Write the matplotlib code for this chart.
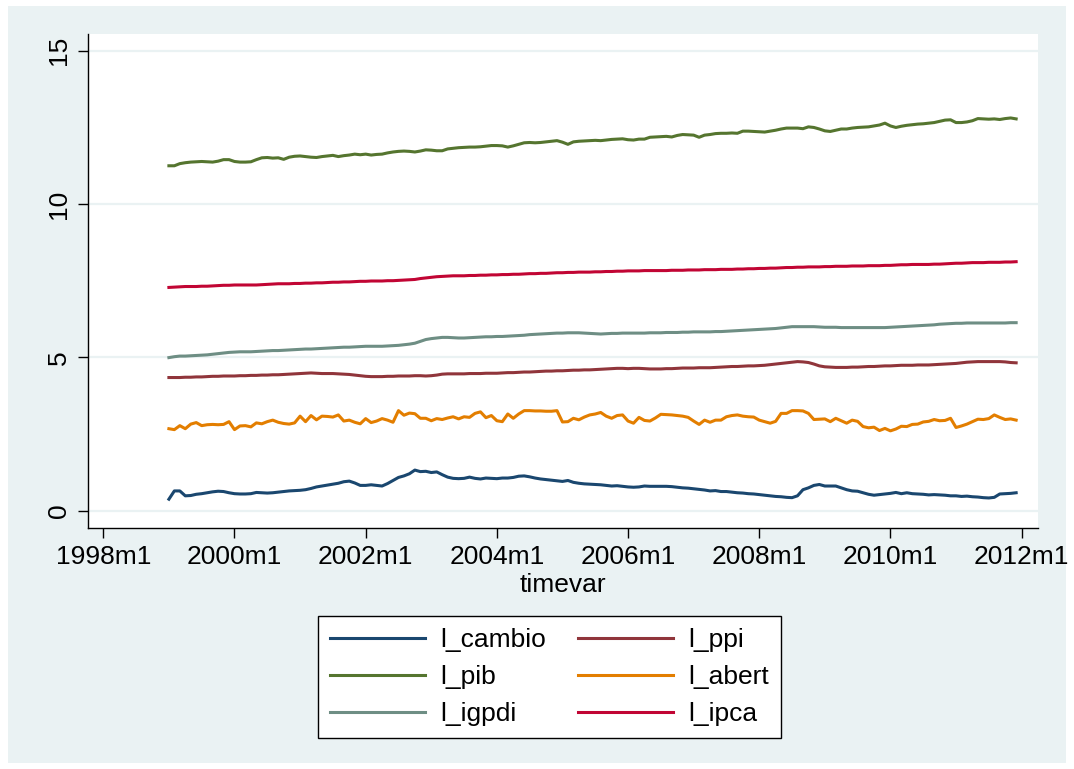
import numpy as np
import matplotlib
matplotlib.use("Agg")
import matplotlib.pyplot as plt
from matplotlib.patches import Rectangle

plt.rcParams['font.family'] = ['Liberation Sans', 'DejaVu Sans']

# monthly data 1999m1 .. 2011m12 (Stata %tm: 1999m1 = 468)
start_tm = 468

l_cambio = [0.37, 0.64, 0.64, 0.48, 0.49, 0.53, 0.55, 0.58, 0.61, 0.63, 0.62, 0.58,
            0.55, 0.54, 0.54, 0.55, 0.59, 0.58, 0.57, 0.58, 0.60, 0.62, 0.64, 0.65,
            0.66, 0.68, 0.72, 0.77, 0.80, 0.83, 0.86, 0.89, 0.94, 0.96, 0.90, 0.82,
            0.82, 0.84, 0.82, 0.80, 0.88, 0.98, 1.08, 1.13, 1.20, 1.32, 1.27, 1.28,
            1.24, 1.26, 1.17, 1.09, 1.05, 1.04, 1.05, 1.09, 1.05, 1.03, 1.06, 1.05,
            1.04, 1.06, 1.06, 1.08, 1.12, 1.13, 1.10, 1.06, 1.03, 1.01, 0.99, 0.97,
            0.95, 0.98, 0.92, 0.89, 0.87, 0.86, 0.85, 0.84, 0.82, 0.80, 0.81, 0.79,
            0.77, 0.76, 0.77, 0.80, 0.79, 0.79, 0.79, 0.79, 0.78, 0.76, 0.74, 0.73,
            0.71, 0.69, 0.67, 0.64, 0.65, 0.62, 0.62, 0.60, 0.58, 0.57, 0.55, 0.54,
            0.52, 0.50, 0.48, 0.46, 0.45, 0.43, 0.42, 0.48, 0.68, 0.74, 0.82, 0.85,
            0.80, 0.80, 0.80, 0.74, 0.68, 0.64, 0.63, 0.58, 0.53, 0.50, 0.52, 0.54,
            0.56, 0.59, 0.55, 0.58, 0.55, 0.54, 0.53, 0.51, 0.52, 0.51, 0.50, 0.48,
            0.48, 0.46, 0.47, 0.45, 0.44, 0.42, 0.41, 0.43, 0.54, 0.55, 0.56, 0.58]

l_ppi = [4.34, 4.34, 4.34, 4.35, 4.35, 4.36, 4.36, 4.37, 4.38, 4.38, 4.39, 4.39,
         4.39, 4.40, 4.40, 4.41, 4.41, 4.42, 4.42, 4.43, 4.43, 4.44, 4.45, 4.46,
         4.47, 4.48, 4.49, 4.48, 4.47, 4.47, 4.47, 4.46, 4.45, 4.44, 4.42, 4.40,
         4.38, 4.37, 4.37, 4.37, 4.38, 4.38, 4.39, 4.39, 4.39, 4.40, 4.40, 4.39,
         4.40, 4.42, 4.45, 4.46, 4.46, 4.46, 4.46, 4.47, 4.47, 4.47, 4.48, 4.48,
         4.48, 4.49, 4.50, 4.50, 4.51, 4.52, 4.52, 4.53, 4.54, 4.55, 4.55, 4.56,
         4.56, 4.57, 4.58, 4.58, 4.59, 4.59, 4.60, 4.61, 4.62, 4.63, 4.64, 4.64,
         4.63, 4.64, 4.64, 4.63, 4.62, 4.62, 4.62, 4.63, 4.63, 4.64, 4.65, 4.65,
         4.65, 4.66, 4.66, 4.66, 4.67, 4.68, 4.69, 4.70, 4.70, 4.71, 4.72, 4.72,
         4.73, 4.74, 4.76, 4.78, 4.80, 4.82, 4.84, 4.86, 4.85, 4.83, 4.78, 4.72,
         4.69, 4.68, 4.67, 4.67, 4.67, 4.68, 4.68, 4.69, 4.70, 4.70, 4.71, 4.72,
         4.72, 4.73, 4.74, 4.74, 4.74, 4.75, 4.75, 4.75, 4.76, 4.77, 4.78, 4.79,
         4.80, 4.82, 4.84, 4.85, 4.86, 4.86, 4.86, 4.86, 4.86, 4.85, 4.83, 4.82]

l_pib = [11.25, 11.25, 11.32, 11.35, 11.37, 11.38, 11.39, 11.38, 11.37, 11.40, 11.45, 11.45,
         11.39, 11.37, 11.37, 11.38, 11.45, 11.51, 11.52, 11.50, 11.51, 11.46, 11.53, 11.56,
         11.57, 11.55, 11.53, 11.52, 11.55, 11.57, 11.59, 11.55, 11.58, 11.60, 11.63, 11.61,
         11.63, 11.60, 11.62, 11.63, 11.67, 11.70, 11.72, 11.73, 11.72, 11.70, 11.73, 11.77,
         11.76, 11.74, 11.74, 11.80, 11.82, 11.84, 11.85, 11.86, 11.86, 11.87, 11.89, 11.91,
         11.91, 11.90, 11.86, 11.90, 11.95, 12.00, 12.01, 12.00, 12.01, 12.03, 12.05, 12.07,
         12.02, 11.95, 12.03, 12.05, 12.06, 12.07, 12.08, 12.07, 12.09, 12.11, 12.12, 12.13,
         12.10, 12.09, 12.12, 12.12, 12.18, 12.19, 12.20, 12.21, 12.19, 12.24, 12.27, 12.26,
         12.25, 12.18, 12.25, 12.27, 12.30, 12.31, 12.31, 12.32, 12.31, 12.38, 12.38, 12.37,
         12.36, 12.35, 12.38, 12.41, 12.45, 12.48, 12.48, 12.48, 12.46, 12.52, 12.50, 12.45,
         12.39, 12.37, 12.41, 12.45, 12.45, 12.48, 12.50, 12.51, 12.52, 12.55, 12.58, 12.64,
         12.55, 12.50, 12.54, 12.57, 12.59, 12.61, 12.62, 12.64, 12.66, 12.70, 12.74, 12.75,
         12.66, 12.66, 12.68, 12.72, 12.79, 12.78, 12.77, 12.78, 12.76, 12.79, 12.81, 12.78]

l_abert = [2.67, 2.64, 2.77, 2.67, 2.82, 2.87, 2.77, 2.80, 2.81, 2.80, 2.81, 2.90,
           2.64, 2.76, 2.77, 2.73, 2.86, 2.83, 2.90, 2.95, 2.88, 2.84, 2.82, 2.86,
           3.08, 2.90, 3.10, 2.96, 3.08, 3.07, 3.05, 3.12, 2.92, 2.95, 2.88, 2.83,
           3.00, 2.87, 2.92, 3.00, 2.95, 2.88, 3.26, 3.11, 3.18, 3.16, 3.01, 3.01,
           2.93, 3.00, 2.97, 3.02, 3.06, 2.99, 3.06, 3.04, 3.17, 3.22, 3.03, 3.10,
           2.93, 2.90, 3.15, 3.01, 3.15, 3.26, 3.26, 3.25, 3.25, 3.24, 3.24, 3.26,
           2.89, 2.90, 3.01, 2.96, 3.05, 3.12, 3.15, 3.20, 3.08, 3.01, 3.10, 3.12,
           2.92, 2.85, 3.04, 2.94, 2.92, 3.02, 3.14, 3.13, 3.12, 3.10, 3.08, 3.04,
           2.92, 2.81, 2.95, 2.88, 2.95, 2.95, 3.06, 3.10, 3.12, 3.08, 3.06, 3.05,
           2.95, 2.90, 2.85, 2.91, 3.17, 3.17, 3.26, 3.26, 3.25, 3.17, 2.97, 2.98,
           2.99, 2.90, 3.01, 2.93, 2.85, 2.95, 2.91, 2.74, 2.70, 2.72, 2.61, 2.68,
           2.60, 2.66, 2.75, 2.74, 2.81, 2.82, 2.89, 2.91, 2.97, 2.93, 2.94, 3.01,
           2.71, 2.76, 2.82, 2.90, 2.98, 2.97, 3.00, 3.12, 3.04, 2.97, 2.99, 2.95]

l_igpdi = [4.99, 5.02, 5.04, 5.04, 5.05, 5.06, 5.07, 5.08, 5.10, 5.12, 5.14, 5.16,
           5.17, 5.18, 5.18, 5.18, 5.19, 5.20, 5.21, 5.22, 5.22, 5.23, 5.24, 5.25,
           5.26, 5.27, 5.27, 5.28, 5.29, 5.30, 5.31, 5.32, 5.33, 5.33, 5.34, 5.35,
           5.36, 5.36, 5.36, 5.36, 5.37, 5.38, 5.39, 5.41, 5.43, 5.46, 5.52, 5.58,
           5.61, 5.63, 5.65, 5.65, 5.64, 5.63, 5.63, 5.64, 5.65, 5.66, 5.67, 5.67,
           5.68, 5.68, 5.69, 5.70, 5.71, 5.72, 5.74, 5.75, 5.76, 5.77, 5.78, 5.79,
           5.79, 5.80, 5.80, 5.80, 5.79, 5.78, 5.77, 5.76, 5.77, 5.78, 5.78, 5.79,
           5.79, 5.79, 5.79, 5.79, 5.80, 5.80, 5.80, 5.81, 5.81, 5.81, 5.82, 5.82,
           5.83, 5.83, 5.83, 5.83, 5.84, 5.84, 5.85, 5.86, 5.87, 5.88, 5.89, 5.90,
           5.91, 5.92, 5.93, 5.94, 5.96, 5.98, 6.00, 6.00, 6.00, 6.00, 6.00, 5.99,
           5.98, 5.98, 5.98, 5.97, 5.97, 5.97, 5.97, 5.97, 5.97, 5.97, 5.97, 5.97,
           5.98, 5.99, 6.00, 6.01, 6.02, 6.03, 6.04, 6.05, 6.06, 6.08, 6.09, 6.10,
           6.11, 6.11, 6.12, 6.12, 6.12, 6.12, 6.12, 6.12, 6.12, 6.12, 6.13, 6.13]

l_ipca = [7.28, 7.29, 7.30, 7.31, 7.31, 7.31, 7.32, 7.32, 7.33, 7.34, 7.35, 7.35,
          7.36, 7.36, 7.36, 7.36, 7.36, 7.37, 7.38, 7.39, 7.40, 7.40, 7.40, 7.41,
          7.41, 7.42, 7.42, 7.43, 7.43, 7.44, 7.45, 7.45, 7.46, 7.46, 7.47, 7.48,
          7.48, 7.49, 7.49, 7.49, 7.50, 7.50, 7.51, 7.52, 7.53, 7.54, 7.57, 7.59,
          7.61, 7.63, 7.64, 7.65, 7.66, 7.66, 7.66, 7.67, 7.67, 7.68, 7.68, 7.69,
          7.69, 7.70, 7.70, 7.71, 7.71, 7.72, 7.73, 7.73, 7.74, 7.74, 7.75, 7.76,
          7.76, 7.77, 7.77, 7.78, 7.78, 7.78, 7.79, 7.79, 7.80, 7.80, 7.81, 7.81,
          7.82, 7.82, 7.82, 7.83, 7.83, 7.83, 7.83, 7.83, 7.84, 7.84, 7.84, 7.85,
          7.85, 7.85, 7.86, 7.86, 7.86, 7.87, 7.87, 7.87, 7.88, 7.88, 7.89, 7.89,
          7.90, 7.90, 7.91, 7.91, 7.92, 7.93, 7.93, 7.94, 7.94, 7.95, 7.95, 7.95,
          7.96, 7.96, 7.97, 7.97, 7.97, 7.98, 7.98, 7.98, 7.99, 7.99, 7.99, 8.00,
          8.00, 8.01, 8.02, 8.02, 8.03, 8.03, 8.03, 8.03, 8.04, 8.04, 8.05, 8.06,
          8.07, 8.07, 8.08, 8.09, 8.09, 8.09, 8.10, 8.10, 8.10, 8.11, 8.11, 8.12]

names = ['l_cambio', 'l_ppi', 'l_pib', 'l_abert', 'l_igpdi', 'l_ipca']
series = [l_cambio, l_ppi, l_pib, l_abert, l_igpdi, l_ipca]
colors = ['#1A476F', '#90353B', '#55752F', '#E37E00', '#6E8E84', '#C10534']

tick_years = [1998, 2000, 2002, 2004, 2006, 2008, 2010, 2012]
tick_pos = [(y - 1960) * 12 for y in tick_years]
tick_lab = [str(y) + 'm1' for y in tick_years]

bg = '#EAF2F3'
fig = plt.figure(figsize=(10.74, 7.69), dpi=100, facecolor='white')
fig.patches.append(Rectangle((8 / 1074, 6 / 769), 1058 / 1074, 757 / 769,
                             transform=fig.transFigure, facecolor=bg,
                             edgecolor='none', zorder=-10))
ax = fig.add_axes([88 / 1074, 1 - 528 / 769, 950 / 1074, 494 / 769])
ax.set_facecolor('white')

x = np.arange(start_tm, start_tm + len(l_cambio))
lines = {}
for name, s, c in zip(names, series, colors):
    lines[name], = ax.plot(x, s, color=c, lw=2.2, label=name, solid_joinstyle='round')

ax.set_xlim(453.2, 627.0)
ax.set_ylim(-0.57, 15.55)
ax.set_yticks([0, 5, 10, 15])
ax.set_yticklabels(['0', '5', '10', '15'], rotation=90, va='center')
ax.set_xticks(tick_pos)
ax.set_xticklabels(tick_lab)
ax.tick_params(labelsize=19, length=7, width=1, pad=5, colors='black')
ax.grid(axis='y', color=bg, lw=1.6)
ax.set_axisbelow(True)
for sp in ['top', 'right']:
    ax.spines[sp].set_visible(False)
ax.spines['left'].set_linewidth(1)
ax.spines['bottom'].set_linewidth(1)
ax.set_xlabel('timevar', fontsize=19, labelpad=3)

order = ['l_cambio', 'l_pib', 'l_igpdi', 'l_ppi', 'l_abert', 'l_ipca']
leg = fig.legend([lines[n] for n in order], order, loc='center', ncol=2,
                 bbox_to_anchor=(549.5 / 1074, 1 - 677 / 769), fontsize=19,
                 frameon=True, fancybox=False, edgecolor='black', framealpha=1,
                 handlelength=3.6, handletextpad=0.6, columnspacing=1.2,
                 labelspacing=0.5, borderpad=0.45)
leg.get_frame().set_linewidth(1)

fig.savefig('out.png', dpi=100, facecolor='white')
